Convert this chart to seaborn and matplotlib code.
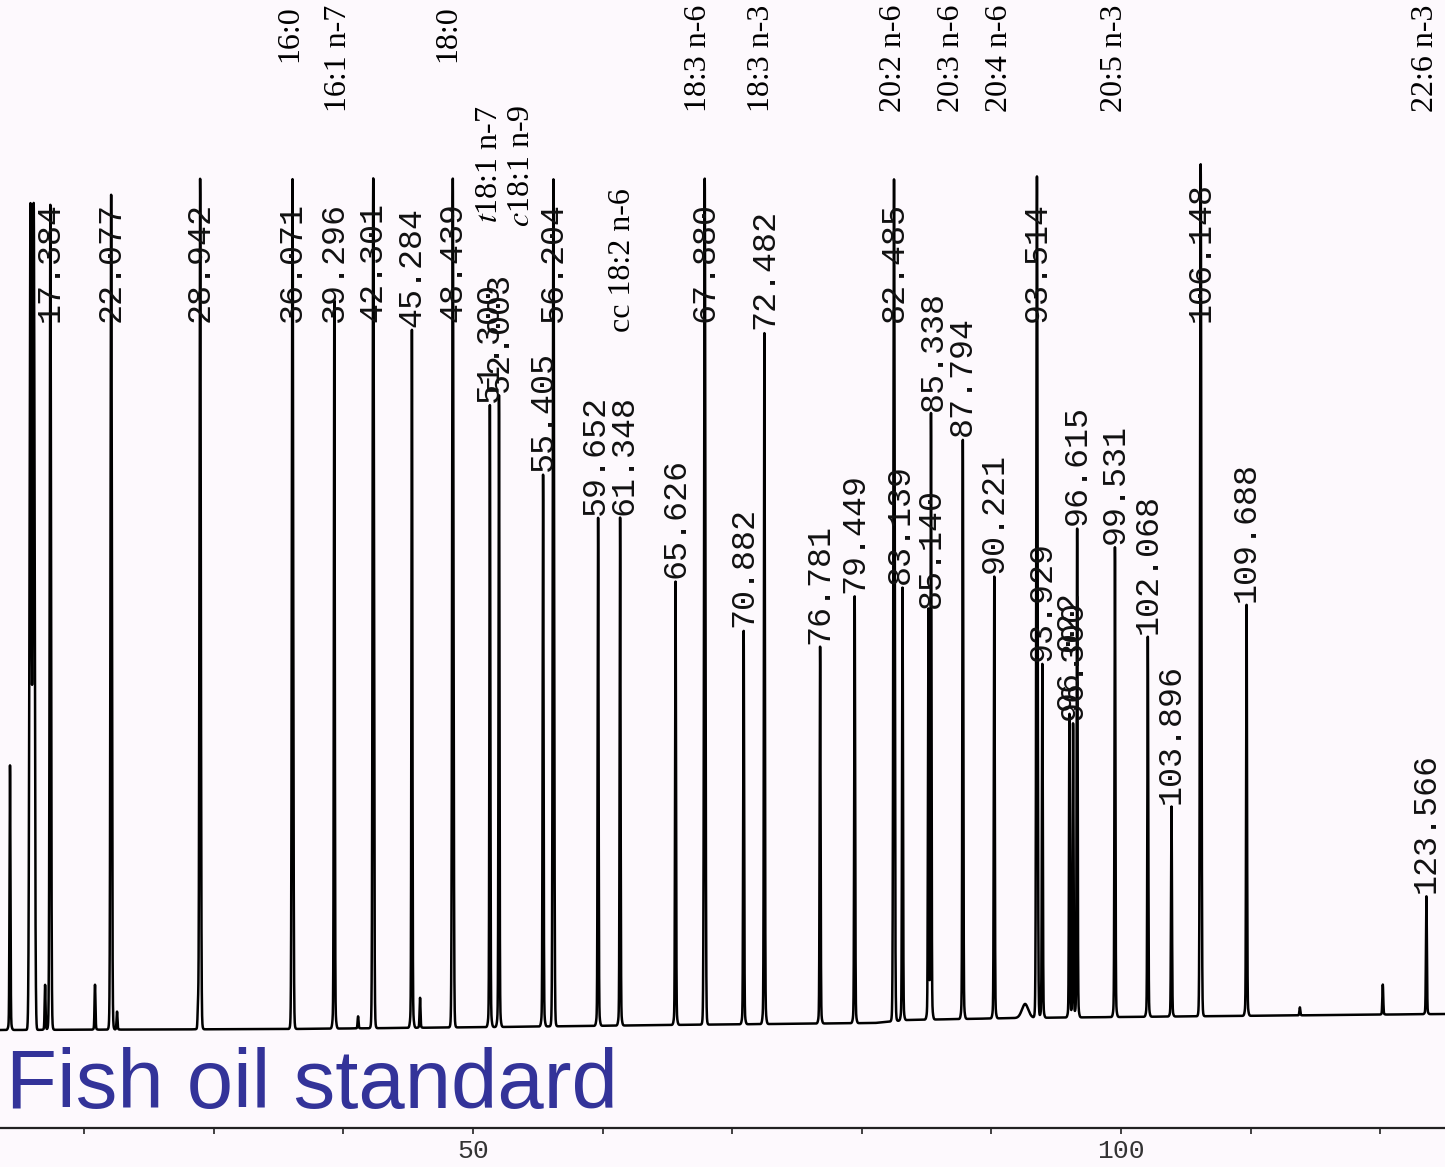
import numpy as np
import pandas as pd
import matplotlib
matplotlib.use("Agg")
import matplotlib.pyplot as plt
import seaborn as sns

# ---------------------------------------------------------------------------
# Peak table of the fish oil FAME standard (retention time in min, height in
# detector units above the baseline)
# ---------------------------------------------------------------------------
retention_times = [17.384, 22.077, 28.942, 36.071, 39.296, 42.301, 45.284,
                   48.439, 51.300, 52.003, 55.405, 56.204, 59.652, 61.348,
                   65.626, 67.880, 70.882, 72.482, 76.781, 79.449, 82.485,
                   83.139, 85.140, 85.338, 87.794, 90.221, 93.514, 93.929,
                   96.022, 96.300, 96.615, 99.531, 102.068, 103.896, 106.148,
                   109.688, 123.566]
peak_heights = [825, 835, 851, 850, 728, 850, 698,
                849, 622, 632, 552, 847, 508, 508,
                444, 846, 394, 692, 377, 427, 842,
                433, 409, 606, 580, 442, 842, 354,
                304, 294, 489, 470, 380, 210, 852,
                411, 118]

# Solvent front and small unassigned peaks
minor_times = [14.27, 15.85, 16.10, 16.98, 20.83, 22.53, 28.78, 41.13,
               45.91, 92.60, 113.80, 120.20]
minor_heights = [265, 825, 825, 45, 45, 18, 20, 12, 30, 14, 8, 30]

# Baseline drift over the temperature programme
baseline_times = [13.5, 36.0, 52.0, 65.0, 81.0, 83.5, 92.0, 100.0, 125.0]
baseline_levels = [0, 1, 3, 5, 7, 10, 12, 13, 16]

# Fatty acid assignments and the peak each one belongs to
fame_names = ["16:0", "16:1 n-7", "18:0", r"$\mathit{t}$18:1 n-7",
              r"$\mathit{c}$18:1 n-9", "cc 18:2 n-6", "18:3 n-6", "18:3 n-3",
              "20:2 n-6", "20:3 n-6", "20:4 n-6", "20:5 n-3", "22:6 n-3"]
fame_peaks = [36.071, 39.296, 48.439, 51.300, 52.003, 61.348, 67.880,
              72.482, 82.485, 87.794, 90.221, 99.531, 123.566]

# Label layout: (horizontal nudge in px, row top in detector units)
fame_layout = {
    "16:0": (-3, 1025), "16:1 n-7": (4, 1025), "18:0": (-5, 1025),
    r"$\mathit{t}$18:1 n-7": (0, 925), r"$\mathit{c}$18:1 n-9": (23, 925),
    "cc 18:2 n-6": (2, 842), "18:3 n-6": (-6, 1025), "18:3 n-3": (-3, 1025),
    "20:2 n-6": (-1, 1025), "20:3 n-6": (-11, 1025), "20:4 n-6": (5, 1025),
    "20:5 n-3": (0, 1025), "22:6 n-3": (-1, 1025),
}
# Horizontal nudges (px) for retention-time labels in crowded spots
rt_label_nudge = {59.652: -3, 61.348: 4, 83.139: -2, 85.140: 3, 85.338: 2}

# ---------------------------------------------------------------------------
# Build the detector trace
# ---------------------------------------------------------------------------
t = np.arange(13.5, 125.0, 0.004)
signal = np.interp(t, baseline_times, baseline_levels).astype(float)


def add_peak(sig, rt, h, sigma):
    # narrow foot at the base of each peak, the apex stays at height h
    foot = min(0.04 * h, 28)
    sig += (h - foot) * np.exp(-0.5 * ((t - rt) / sigma) ** 2)
    sig += foot * np.exp(-0.5 * ((t - rt) / 0.09) ** 2)


for rt, h in zip(retention_times, peak_heights):
    add_peak(signal, rt, h, 0.035 if h < 800 else 0.05)
for rt, h in zip(minor_times, minor_heights):
    add_peak(signal, rt, h, 0.25 if h == 14 else (0.07 if h > 800 else 0.035))

trace = pd.DataFrame({"time": t, "signal": signal})

# ---------------------------------------------------------------------------
# Figure
# ---------------------------------------------------------------------------
sns.set_theme(style="white")
plt.rcParams["font.family"] = ["DejaVu Sans"]
plt.rcParams["mathtext.fontset"] = "stix"

bg = "#fdf9fd"
W, H = 1445, 1167
fig = plt.figure(figsize=(W / 100, H / 100), dpi=100, facecolor=bg)
axis_px = 1128
ax = fig.add_axes([0, (H - axis_px) / H, 1, axis_px / H])
ax.set_facecolor(bg)

sns.lineplot(data=trace, x="time", y="signal", ax=ax, color="black",
             linewidth=1.8, sort=False, estimator=None)

ax.set_xlim(13.5, 125.0)
ax.set_ylim(-98, 1030)
ax.set_xlabel("")
ax.set_ylabel("")
ax.set_yticks([])

for side in ("top", "left", "right"):
    ax.spines[side].set_visible(False)
ax.spines["bottom"].set_color("#222222")
ax.spines["bottom"].set_linewidth(1.6)

ax.set_xticks([50, 100])
ax.set_xticks(np.arange(20, 130, 10), minor=True)
ax.set_xticklabels(["50", "100"], fontfamily="Liberation Mono",
                   fontsize=19, color="#333333")
ax.tick_params(axis="x", which="both", direction="out", length=4,
               width=1.2, color="#222222", pad=4, bottom=True)

# Retention time printed at each peak apex (capped for off-scale peaks)
cap = 705
for rt, h in zip(retention_times, peak_heights):
    apex = np.interp(rt, baseline_times, baseline_levels) + h
    ax.annotate(f"{rt:.3f}", xy=(rt, min(apex, cap) + 3),
                xytext=(rt_label_nudge.get(rt, 0) * 0.72, 0),
                textcoords="offset points", rotation=90,
                ha="center", va="bottom", fontfamily="Liberation Mono",
                fontsize=24, color="#111111")

# Fatty acid names
for name, rt in zip(fame_names, fame_peaks):
    dx, top = fame_layout[name]
    ax.annotate(name, xy=(rt, top), xytext=(dx * 0.72, 0),
                textcoords="offset points", rotation=90, ha="center",
                va="top", fontfamily="Liberation Serif", fontsize=23,
                color="black")

ax.text(0.004, (axis_px - 1108) / axis_px, "Fish oil standard",
        transform=ax.transAxes, ha="left", va="baseline",
        fontfamily="Liberation Sans", fontsize=60, color="#333399")

fig.savefig("out.png", dpi=100, facecolor=bg)
